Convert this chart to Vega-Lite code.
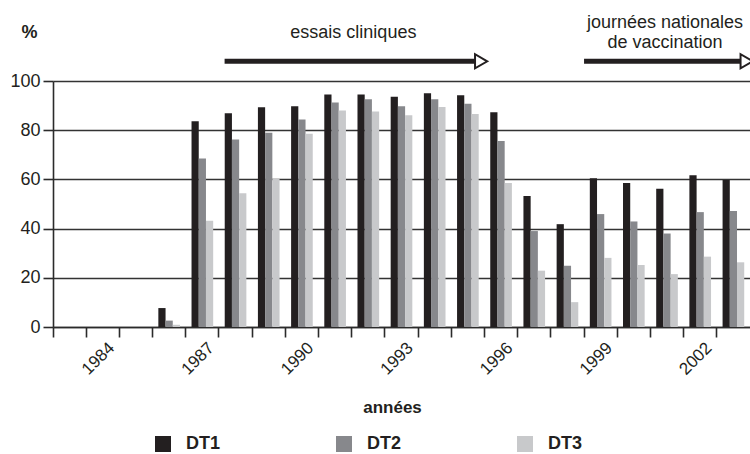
{
  "$schema": "https://vega.github.io/schema/vega-lite/v6.json",
  "width": 697,
  "height": 246,
  "autosize": {"type": "none"},
  "padding": {"left": 53, "top": 81, "right": 0, "bottom": 127},
  "config": {
    "font": "Liberation Sans, sans-serif",
    "view": {"stroke": null},
    "axis": {
      "domain": true,
      "domainColor": "#2b2b2b",
      "domainWidth": 1.6,
      "ticks": true,
      "tickColor": "#2b2b2b",
      "tickSize": 10,
      "tickWidth": 1.6,
      "zindex": 2,
      "labelColor": "#231f20",
      "titleColor": "#231f20",
      "titleFontWeight": "bold"
    },
    "axisX": {
      "labelAngle": -45,
      "labelAlign": "right",
      "labelBaseline": "middle",
      "labelOffset": 9,
      "labelPadding": 8,
      "labelFontSize": 17,
      "labelOverlap": false,
      "titleFontSize": 17,
      "titleX": 339,
      "titleY": 80,
      "titleAlign": "center",
      "titleBaseline": "middle"
    },
    "axisY": {
      "grid": true,
      "gridColor": "#333333",
      "gridWidth": 1.3,
      "labelFontSize": 18,
      "labelPadding": 3,
      "titleAngle": 0,
      "titleX": -24,
      "titleY": -49,
      "titleFontSize": 18,
      "titleAlign": "center",
      "titleBaseline": "middle"
    }
  },
  "datasets": {
    "cov": [
      {"year": 1986, "dose": "DT1", "value": 7.7}, {"year": 1986, "dose": "DT2", "value": 2.6}, {"year": 1986, "dose": "DT3", "value": 0.9},
      {"year": 1987, "dose": "DT1", "value": 83.6}, {"year": 1987, "dose": "DT2", "value": 68.5}, {"year": 1987, "dose": "DT3", "value": 43.2},
      {"year": 1988, "dose": "DT1", "value": 86.9}, {"year": 1988, "dose": "DT2", "value": 76.2}, {"year": 1988, "dose": "DT3", "value": 54.4},
      {"year": 1989, "dose": "DT1", "value": 89.3}, {"year": 1989, "dose": "DT2", "value": 79.0}, {"year": 1989, "dose": "DT3", "value": 60.2},
      {"year": 1990, "dose": "DT1", "value": 89.7}, {"year": 1990, "dose": "DT2", "value": 84.4}, {"year": 1990, "dose": "DT3", "value": 78.6},
      {"year": 1991, "dose": "DT1", "value": 94.5}, {"year": 1991, "dose": "DT2", "value": 91.3}, {"year": 1991, "dose": "DT3", "value": 88.0},
      {"year": 1992, "dose": "DT1", "value": 94.5}, {"year": 1992, "dose": "DT2", "value": 92.6}, {"year": 1992, "dose": "DT3", "value": 87.6},
      {"year": 1993, "dose": "DT1", "value": 93.6}, {"year": 1993, "dose": "DT2", "value": 89.7}, {"year": 1993, "dose": "DT3", "value": 86.1},
      {"year": 1994, "dose": "DT1", "value": 95.0}, {"year": 1994, "dose": "DT2", "value": 92.6}, {"year": 1994, "dose": "DT3", "value": 89.4},
      {"year": 1995, "dose": "DT1", "value": 94.2}, {"year": 1995, "dose": "DT2", "value": 90.8}, {"year": 1995, "dose": "DT3", "value": 86.6},
      {"year": 1996, "dose": "DT1", "value": 87.3}, {"year": 1996, "dose": "DT2", "value": 75.6}, {"year": 1996, "dose": "DT3", "value": 58.5},
      {"year": 1997, "dose": "DT1", "value": 53.3}, {"year": 1997, "dose": "DT2", "value": 39.0}, {"year": 1997, "dose": "DT3", "value": 22.9},
      {"year": 1998, "dose": "DT1", "value": 41.8}, {"year": 1998, "dose": "DT2", "value": 24.9}, {"year": 1998, "dose": "DT3", "value": 10.1},
      {"year": 1999, "dose": "DT1", "value": 60.5}, {"year": 1999, "dose": "DT2", "value": 45.9}, {"year": 1999, "dose": "DT3", "value": 28.1},
      {"year": 2000, "dose": "DT1", "value": 58.5}, {"year": 2000, "dose": "DT2", "value": 42.9}, {"year": 2000, "dose": "DT3", "value": 25.2},
      {"year": 2001, "dose": "DT1", "value": 56.2}, {"year": 2001, "dose": "DT2", "value": 38.0}, {"year": 2001, "dose": "DT3", "value": 21.5},
      {"year": 2002, "dose": "DT1", "value": 61.7}, {"year": 2002, "dose": "DT2", "value": 46.7}, {"year": 2002, "dose": "DT3", "value": 28.6},
      {"year": 2003, "dose": "DT1", "value": 59.8}, {"year": 2003, "dose": "DT2", "value": 47.2}, {"year": 2003, "dose": "DT3", "value": 26.3}
    ],
    "arrows": [
      {"label": "essais cliniques", "start": 1988, "end": 1995, "labelYear": 1992},
      {"label": "journées nationales\nde vaccination", "start": 1999, "end": 2003, "labelYear": 2001}
    ]
  },
  "layer": [
    {
      "data": {"name": "cov"},
      "mark": {"type": "bar"},
      "encoding": {
        "x": {
          "field": "year",
          "type": "ordinal",
          "scale": {
            "domain": [1983, 1984, 1985, 1986, 1987, 1988, 1989, 1990, 1991, 1992, 1993, 1994, 1995, 1996, 1997, 1998, 1999, 2000, 2001, 2002, 2003],
            "paddingInner": 0,
            "paddingOuter": 0
          },
          "axis": {
            "bandPosition": 0,
            "labelExpr": "(datum.value - 1984) % 3 == 0 ? datum.label : ''",
            "title": "années"
          }
        },
        "xOffset": {"field": "dose", "type": "nominal", "scale": {"paddingOuter": 0.8, "paddingInner": 0}},
        "y": {
          "field": "value",
          "type": "quantitative",
          "scale": {"domain": [0, 100], "nice": false},
          "axis": {
            "values": [0, 20, 40, 60, 80, 100],
            "title": "%"
          }
        },
        "color": {
          "field": "dose",
          "type": "nominal",
          "scale": {"domain": ["DT1", "DT2", "DT3"], "range": ["#231f20", "#87888c", "#c8c9cb"]},
          "legend": {
            "orient": "none",
            "legendX": 101,
            "legendY": 354,
            "direction": "horizontal",
            "columns": 3,
            "title": null,
            "symbolType": "square",
            "symbolSize": 256,
            "symbolStrokeWidth": 0,
            "symbolOpacity": 1,
            "labelFontSize": 18,
            "labelFontWeight": "bold",
            "labelColor": "#231f20",
            "labelOffset": 14,
            "columnPadding": 114,
            "padding": 0
          }
        }
      }
    },
    {
      "data": {"name": "arrows"},
      "transform": [{"filter": "datum.start == 1988"}],
      "mark": {"type": "bar", "color": "#231f20"},
      "encoding": {
        "x": {"field": "start", "type": "ordinal", "bandPosition": 0.17},
        "x2": {"field": "end", "bandPosition": 0.9},
        "y": {"datum": 107},
        "y2": {"datum": 109}
      }
    },
    {
      "data": {"name": "arrows"},
      "transform": [{"filter": "datum.start == 1999"}],
      "mark": {"type": "bar", "color": "#231f20"},
      "encoding": {
        "x": {"field": "start", "type": "ordinal", "bandPosition": 0},
        "x2": {"field": "end", "bandPosition": 0.9},
        "y": {"datum": 107},
        "y2": {"datum": 109}
      }
    },
    {
      "data": {"name": "arrows"},
      "mark": {"type": "point", "shape": "triangle-right", "filled": true, "fill": "white", "stroke": "#231f20", "strokeWidth": 2, "size": 200, "opacity": 1},
      "encoding": {
        "x": {"field": "end", "type": "ordinal", "bandPosition": 0.9},
        "y": {"datum": 108}
      }
    },
    {
      "data": {"name": "arrows"},
      "transform": [{"filter": "datum.start == 1988"}],
      "mark": {"type": "text", "fontSize": 18, "color": "#231f20", "align": "center", "baseline": "middle"},
      "encoding": {
        "x": {"field": "labelYear", "type": "ordinal", "bandPosition": 0.05},
        "y": {"datum": 119.5},
        "text": {"field": "label"}
      }
    },
    {
      "data": {"name": "arrows"},
      "transform": [{"filter": "datum.start == 1999"}],
      "mark": {"type": "text", "fontSize": 18, "color": "#231f20", "align": "center", "baseline": "middle", "lineBreak": "\n", "lineHeight": 20},
      "encoding": {
        "x": {"field": "labelYear", "type": "ordinal", "bandPosition": 0.44},
        "y": {"datum": 123.6},
        "text": {"field": "label"}
      }
    }
  ]
}
